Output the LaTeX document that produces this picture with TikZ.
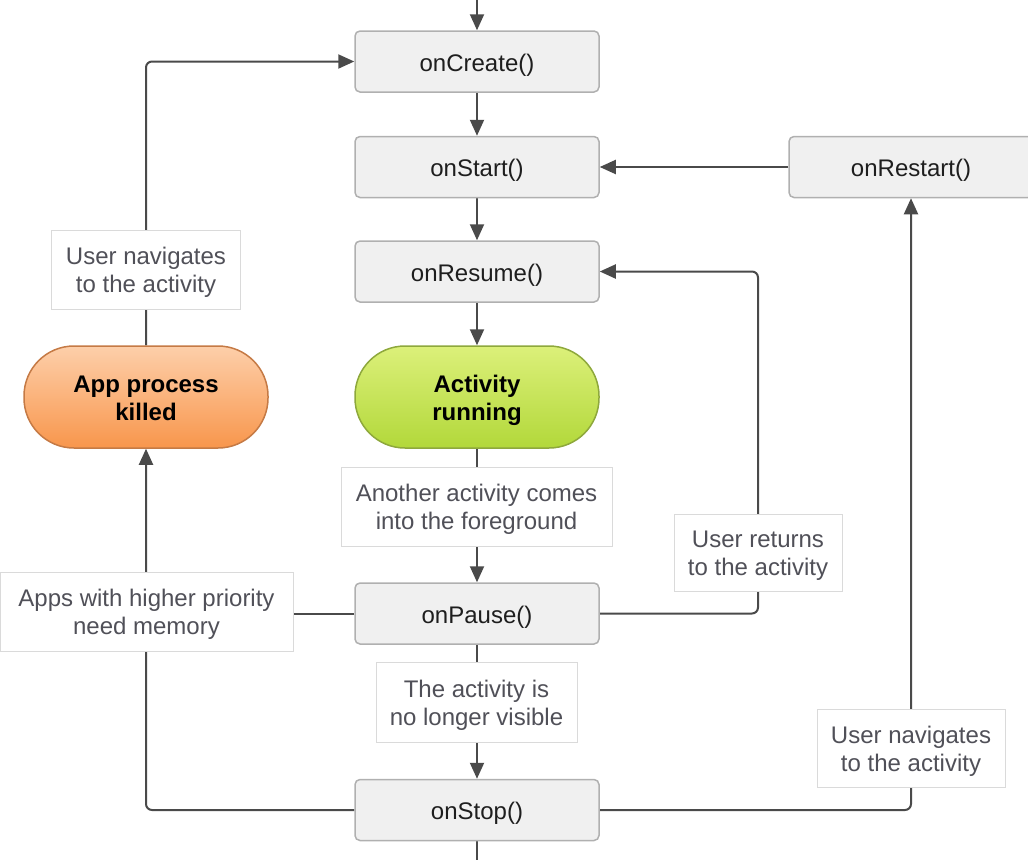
\documentclass[tikz,border=0pt]{standalone}
\usepackage{fontspec}
\setmainfont{Liberation Sans}
\usetikzlibrary{arrows.meta,positioning}
\pgfdeclarelayer{background}
\pgfsetlayers{background,main}
\definecolor{boxfill}{HTML}{F0F0F0}
\definecolor{boxdraw}{HTML}{B0B0B0}
\definecolor{linec}{HTML}{4A4A4A}
\definecolor{lbltext}{HTML}{505058}
\definecolor{lbldraw}{HTML}{DADADA}
\definecolor{methtext}{HTML}{1E1E1E}
\definecolor{orangetop}{HTML}{FDCFAA}
\definecolor{orangebot}{HTML}{F8964C}
\definecolor{orangedraw}{HTML}{C57A45}
\definecolor{greentop}{HTML}{DCF07A}
\definecolor{greenbot}{HTML}{B2D83A}
\definecolor{greendraw}{HTML}{8EA83C}
\tikzset{
  method/.style={draw=boxdraw, line width=1.5pt, fill=boxfill, rounded corners=5pt,
    minimum width=244pt, minimum height=61pt, inner sep=0pt, text=methtext,
    text height=24.5pt, text depth=5pt, font=\fontsize{24}{28}\selectfont},
  statebox/.style={draw=#1draw, line width=1.5pt, top color=#1top, bottom color=#1bot,
    rounded corners=50pt, minimum width=244pt, minimum height=102pt, inner sep=0pt,
    align=center, text height=51pt, text depth=5pt,
    font=\fontsize{24}{28}\selectfont\bfseries, text=black},
  lbl/.style={draw=lbldraw, line width=1pt, fill=white, align=center, inner sep=0pt,
    text=lbltext, text height=51pt, text depth=5pt, font=\fontsize{24}{28}\selectfont},
  conn/.style={draw=linec, line width=2pt, rounded corners=6pt},
  arr/.style={conn, -{Triangle[length=16pt,width=14pt]}},
}
\begin{document}
\begin{tikzpicture}[x=1pt,y=-1pt]
\useasboundingbox (0,0) rectangle (1028,860);
\node[method] (onCreate) at (477,61.5) {onCreate()};
\node[method] (onStart) at (477,167) {onStart()};
\node[method] (onRestart) at (911,167) {onRestart()};
\node[method] (onResume) at (477,271.5) {onResume()};
\node[statebox=green] (running) at (477,397) {Activity\\running};
\node[statebox=orange] (killed) at (146,397) {App process\\killed};
\node[lbl, minimum width=271pt, minimum height=79pt] (another) at (476.5,506.5) {Another activity comes\\into the foreground};
\node[method] (onPause) at (477,613.5) {onPause()};
\node[lbl, minimum width=293pt, minimum height=79pt] (apps) at (146.5,611.5) {Apps with higher priority\\need memory};
\node[lbl, minimum width=168pt, minimum height=77pt] (returns) at (758,552.5) {User returns\\to the activity};
\node[lbl, minimum width=201pt, minimum height=80pt] (visible) at (476.5,702) {The activity is\\no longer visible};
\node[method] (onStop) at (477,810) {onStop()};
\node[lbl, minimum width=188pt, minimum height=78pt] (navR) at (911,748) {User navigates\\to the activity};
\node[lbl, minimum width=189pt, minimum height=79pt] (navL) at (146,269.5) {User navigates\\to the activity};
\coordinate (topin) at (477,0);
\coordinate (botout) at (477,860);
\begin{pgfonlayer}{background}
\draw[arr] (topin) -- (onCreate.north);
\draw[arr] (onCreate) -- (onStart);
\draw[arr] (onStart) -- (onResume);
\draw[arr] (onResume) -- (running);
\draw[arr] (running) -- (onPause);
\draw[arr] (onPause) -- (onStop);
\draw[conn] (onStop.south) -- (botout);
\draw[arr] (onRestart) -- (onStart);
\draw[arr] (onPause.east) -| (returns.center) |- (onResume.east);
\draw[arr] (onStop.east) -| (onRestart.south);
\draw[arr] (onStop.west) -| (killed.south);
\draw[arr] (killed.north) |- (onCreate.west);
\draw[conn] (onPause.west) -- (onPause.west -| apps.east);
\end{pgfonlayer}
\end{tikzpicture}
\end{document}
